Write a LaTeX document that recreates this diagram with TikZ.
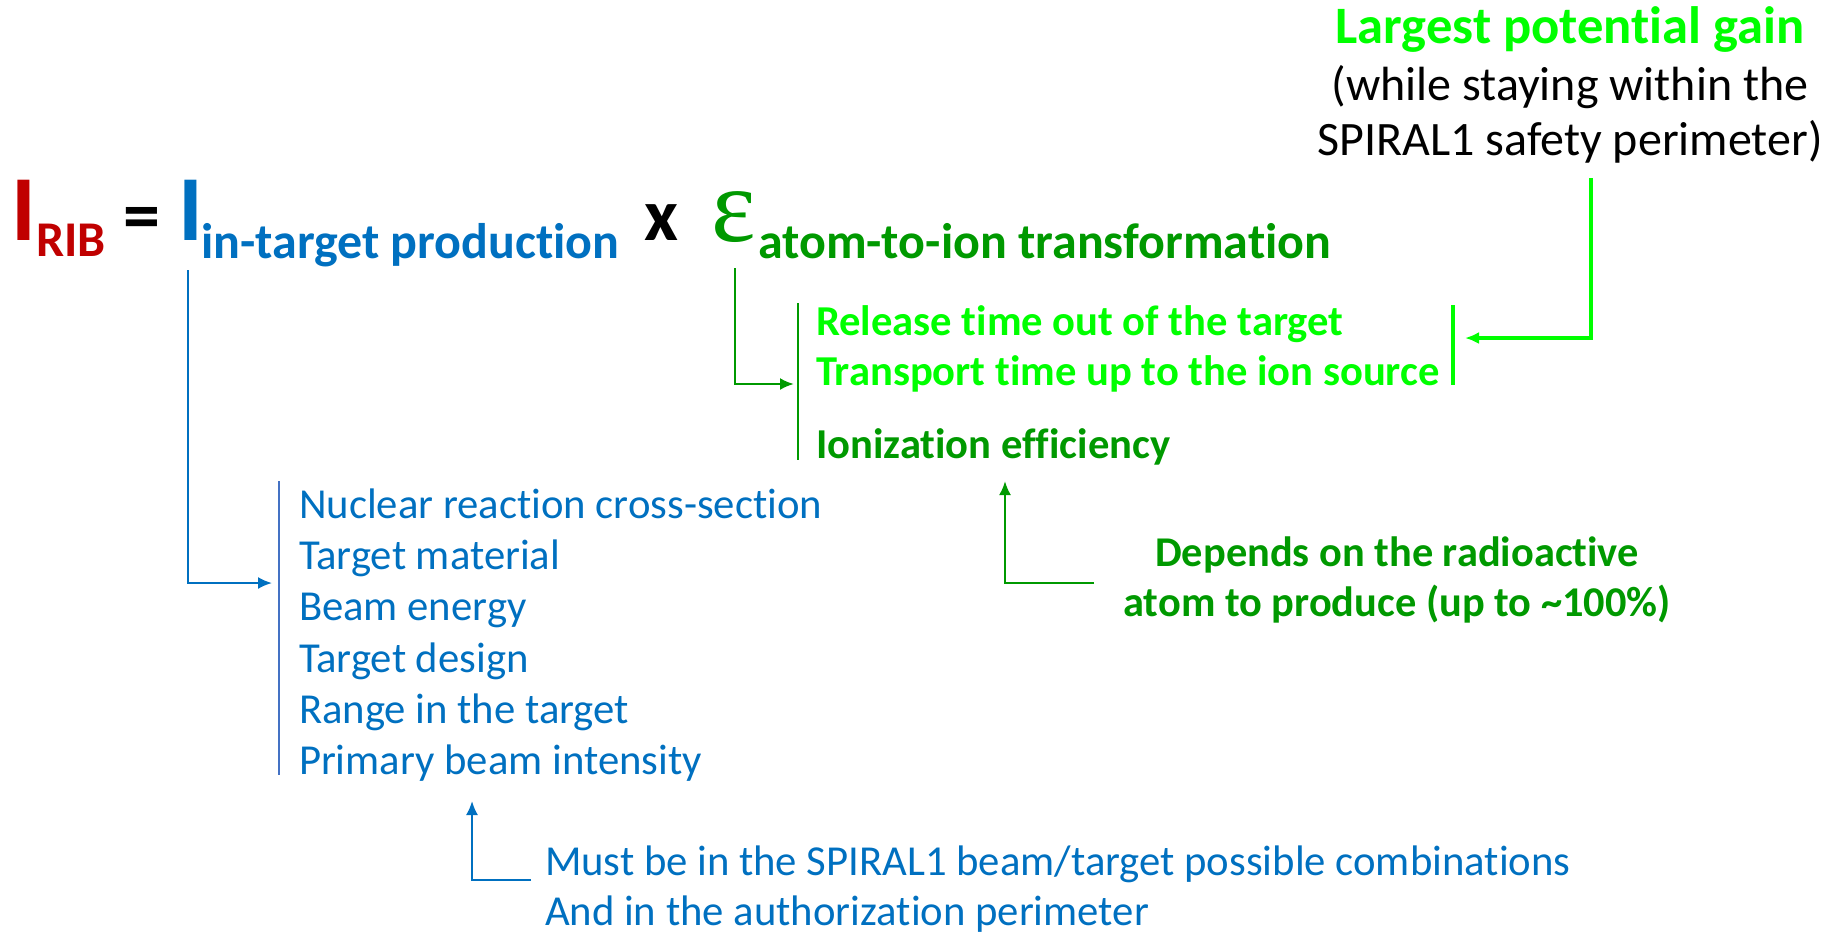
\documentclass[tikz,border=0pt]{standalone}
\usepackage{fontspec}
\setmainfont{Carlito}[Ligatures={NoCommon,NoContextual,NoRare}, Contextuals=NoAlternate]
\newfontfamily\epsfont{Liberation Serif}
\usetikzlibrary{positioning}
\usetikzlibrary{calc}
\usetikzlibrary{arrows.meta}
\definecolor{ribred}{RGB}{192, 0, 0}
\definecolor{prodblue}{RGB}{0, 112, 192}
\definecolor{barblue}{RGB}{68, 114, 196}
\definecolor{convgreen}{RGB}{0, 153, 0}
\definecolor{gaingreen}{RGB}{0, 255, 0}

\begin{document}
\begin{tikzpicture}[
    x=0.5pt, y=-0.5pt,
    >={Latex[length=7pt,width=6pt]},
    % node styles
    txt/.style = {inner sep=0pt, outer sep=0pt, anchor=base west},
    big/.style = {txt, font=\fontsize{46.5}{50}\selectfont\bfseries},
    sub/.style = {txt, font=\fontsize{25}{29}\selectfont\bfseries},
    item/.style = {txt, font=\fontsize{21.35}{25.6}\selectfont, text=prodblue},
    gitem/.style = {txt, font=\fontsize{21.3}{25.6}\selectfont\bfseries},
    note/.style = {inner sep=0pt, outer sep=0pt, anchor=base},
    % arrow styles
    bluearr/.style = {->, line width=1pt, draw=prodblue},
    greenarr/.style = {->, line width=1.2pt, draw=convgreen},
    gainarr/.style = {->, line width=2pt, draw=gaingreen},
    % bar styles
    bluebar/.style = {line width=1.4pt, draw=barblue},
    greenbar/.style = {line width=1pt, draw=convgreen},
    gainbar/.style = {line width=2pt, draw=gaingreen}
  ]
  \useasboundingbox (0,0) rectangle (1841,933);

  % --- Formula
  \node[big, text=ribred] (irib) at (11,240) {I};
  \node[sub, text=ribred] (rib) at (36,256) {RIB};
  \node[txt, font=\fontsize{37}{40}\selectfont\bfseries] (eq) at (123,240) {=};
  \node[big, text=prodblue] (iprod) at (178,240) {I};
  \node[sub, text=prodblue] (prod) at (201,258) {in-target production};
  \node[txt, font=\fontsize{37}{40}\selectfont\bfseries] (times) at (644,240) {x};
  \node[txt, font=\fontsize{53}{56}\selectfont\epsfont, text=convgreen] (eps) at (711,241) {ε};
  \node[sub, text=convgreen] (conv) at (758,258) {atom-to-ion transformation};

  % --- Top right note
  \node[note, font=\fontsize{26.3}{30}\selectfont\bfseries, text=gaingreen] (gain) at (1570,43) {Largest potential gain};
  \node[note, font=\fontsize{24}{28}\selectfont] (gainb) at (1570,100) {(while staying within the};
  \node[note, font=\fontsize{24}{28}\selectfont] (gainc) at (1570,155) {SPIRAL1 safety perimeter)};

  % --- Transformation factors
  \node[gitem, text=gaingreen] (release) at (816,335) {Release time out of the target};
  \node[gitem, text=gaingreen] (transport) at (816,385) {Transport time up to the ion source};
  \node[gitem, text=convgreen] (ioniz) at (816,458) {Ionization efficiency};
  \draw[greenbar] (798,303) -- (798,460);
  \draw[gainbar] (1453,305) -- (1453,385);

  \node[note, font=\fontsize{21.2}{25.6}\selectfont\bfseries, text=convgreen] (dep) at (1397,566) {Depends on the radioactive};
  \node[note, font=\fontsize{21.2}{25.6}\selectfont\bfseries, text=convgreen] (depb) at (1397,616) {atom to produce (up to \textasciitilde100\%)};

  % --- Production factors
  \node[item] (xsec) at (299,518) {Nuclear reaction cross-section};
  \node[item] (tmat) at (299,569) {Target material};
  \node[item] (benergy) at (299,620) {Beam energy};
  \node[item] (tdesign) at (299,672) {Target design};
  \node[item] (range) at (299,723) {Range in the target};
  \node[item] (intens) at (299,774) {Primary beam intensity};
  \draw[bluebar] (279,481) -- (279,775);

  \node[item] (must) at (545,875) {Must be in the SPIRAL1 beam/target possible combinations};
  \node[item] (mustb) at (545,925) {And in the authorization perimeter};

  % --- Arrows
  \coordinate (bstart) at (188,270);
  \coordinate (btip) at (272,583);
  \draw[bluearr] (bstart) |- (btip);

  \coordinate (gstart) at (735,268);
  \coordinate (gtip) at (794,384);
  \draw[greenarr] (gstart) |- (gtip);

  \coordinate (lstart) at (1591,178);
  \coordinate (ltip) at (1465,338);
  \draw[gainarr] (lstart) |- (ltip);

  \coordinate (dstart) at (1094,583);
  \coordinate (dtip) at (1005,481);
  \draw[greenarr] (dstart) -| (dtip);

  \coordinate (mstart) at (531,880);
  \coordinate (mtip) at (472,801);
  \draw[bluearr] (mstart) -| (mtip);

\end{tikzpicture}
\end{document}
